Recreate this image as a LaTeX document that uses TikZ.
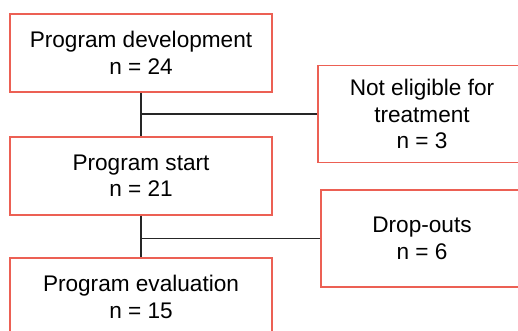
\documentclass[tikz,border=0pt]{standalone}
\usepackage{fontspec}
\setmainfont{Liberation Sans}
\usepackage{tikz}
\usetikzlibrary{positioning}
\definecolor{boxred}{RGB}{236,96,84}

\begin{document}
\begin{tikzpicture}[
    x=0.5pt, y=-0.5pt,
    stage/.style={rectangle, draw=boxred, line width=0.9pt, minimum width=131pt, minimum height=39pt,
                  align=center, font=\fontsize{11.3}{13.2}\selectfont},
    exclusion/.style={rectangle, draw=boxred, line width=0.9pt, minimum width=104pt, minimum height=48.5pt,
                  align=center, font=\fontsize{11.3}{13.2}\selectfont},
    link/.style={draw=black!85, line width=0.9pt}
]
    \useasboundingbox (0,0) rectangle (518,331);
    \clip (0,0) rectangle (518,331);

    % main flow
    \node[stage] (develop) at (141,53) {Program development\\n = 24};
    \node[stage] (start) at (141,176) {Program start\\n = 21};
    \node[stage] (evaluation) at (141,297) {Program evaluation\\n = 15};

    % excluded participants
    \node[exclusion] (noteligible) at (422,114) {Not eligible for\\treatment\\n = 3};
    \node[exclusion, minimum width=101pt] (dropouts) at (422,238.5) {Drop-outs\\n = 6};

    % connectors
    \draw[link] (develop) -- (start);
    \draw[link] (start) -- (evaluation);
    \draw[link] (noteligible.west) -- (noteligible.west -| develop.south);
    \draw[link] (dropouts.west) -- (dropouts.west -| start.south);
\end{tikzpicture}
\end{document}
